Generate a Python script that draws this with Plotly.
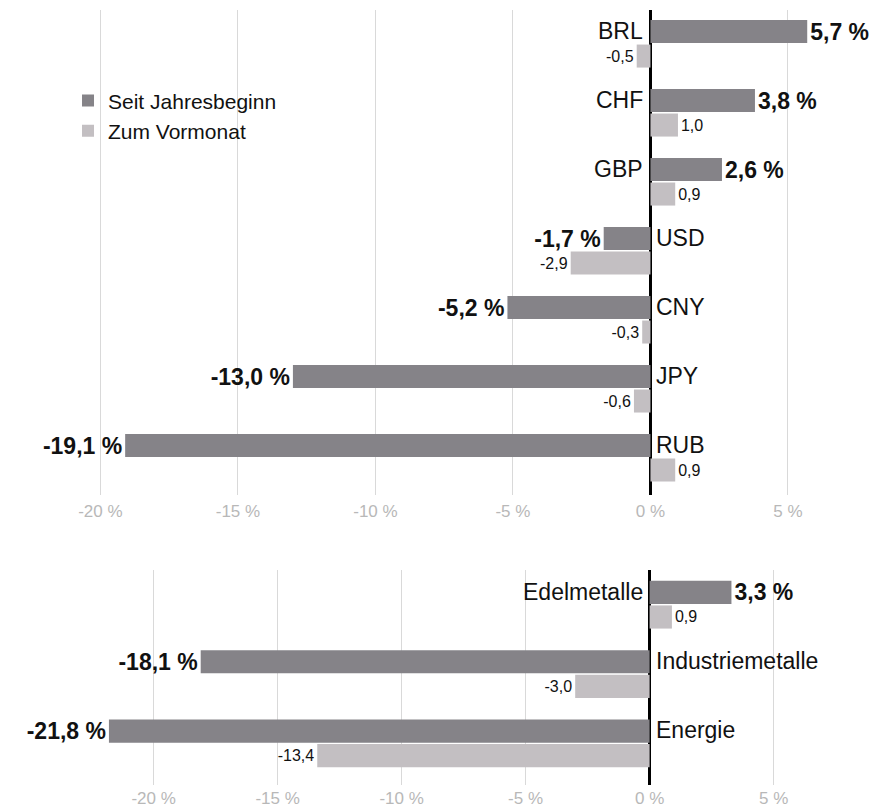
import plotly.graph_objects as go

# Währungen (oben)
currencies = ['BRL', 'CHF', 'GBP', 'USD', 'CNY', 'JPY', 'RUB']
cur_ytd = [5.7, 3.8, 2.6, -1.7, -5.2, -13.0, -19.1]
cur_month = [-0.5, 1.0, 0.9, -2.9, -0.3, -0.6, 0.9]

# Rohstoffe (unten)
commodities = ['Edelmetalle', 'Industriemetalle', 'Energie']
com_ytd = [3.3, -18.1, -21.8]
com_month = [0.9, -3.0, -13.4]

tick_vals = [-20, -15, -10, -5, 0, 5]
tick_text = ['-20 %', '-15 %', '-10 %', '-5 %', '0 %', '5 %']

DARK = '#858388'
LIGHT = '#c3bfc2'
FONT = 'Liberation Sans, Arial, sans-serif'


def fmt_pct(v):
    return f'{v:.1f} %'.replace('.', ',')


def fmt_num(v):
    return f'{v:.1f}'.replace('.', ',')


fig = go.Figure()

for cats, ytd, month, xa, ya, legend in [
        (currencies, cur_ytd, cur_month, 'x', 'y', True),
        (commodities, com_ytd, com_month, 'x2', 'y2', False)]:
    fig.add_trace(go.Bar(
        y=cats, x=ytd, orientation='h', name='Seit Jahresbeginn',
        marker=dict(color=DARK, line=dict(width=0)),
        text=[fmt_pct(v) for v in ytd], textposition='outside',
        textfont=dict(family=FONT, size=23, color='#111111', weight='bold'),
        constraintext='none', cliponaxis=False,
        showlegend=legend, xaxis=xa, yaxis=ya, hoverinfo='skip'))
    fig.add_trace(go.Bar(
        y=cats, x=month, orientation='h', name='Zum Vormonat',
        marker=dict(color=LIGHT, line=dict(width=0)),
        text=[fmt_num(v) for v in month], textposition='outside',
        textfont=dict(family=FONT, size=16, color='#111111'),
        constraintext='none', cliponaxis=False,
        showlegend=legend, xaxis=xa, yaxis=ya, hoverinfo='skip'))

# Kategoriebeschriftungen direkt an der Nulllinie
annotations = []
for cats, ytd, ya in [(currencies, cur_ytd, 'y'), (commodities, com_ytd, 'y2')]:
    xr = 'x' if ya == 'y' else 'x2'
    for c, v in zip(cats, ytd):
        pos = v >= 0
        annotations.append(dict(
            x=0, y=c, xref=xr, yref=ya, text=c, showarrow=False,
            xanchor='right' if pos else 'left', xshift=-5 if pos else 4,
            yshift=13, font=dict(family=FONT, size=23, color='#111111')))

axis_common = dict(
    tickvals=tick_vals, ticktext=tick_text, showgrid=True,
    gridcolor='#d9d9d9', gridwidth=1.3, zeroline=True,
    zerolinecolor='#000000', zerolinewidth=2.5, showline=False,
    ticks='', tickfont=dict(family=FONT, size=17, color='#b8b8b8'),
    automargin=False, fixedrange=True)

# die Seite hat 8px Rand, daher 871 x 803
fig.update_layout(
    width=871, height=803,
    margin=dict(l=0, r=0, t=0, b=0),
    paper_bgcolor='white', plot_bgcolor='white',
    barmode='group', bargap=0.29, bargroupgap=0.06,
    font=dict(family=FONT, color='#111111'),
    xaxis=dict(domain=[0, 1], anchor='y', range=[-23.36, 8.31],
               ticklabelstandoff=4, **axis_common),
    yaxis=dict(domain=[0.3935, 0.9975], anchor='x', range=[6.54, -0.49],
               showticklabels=False, showgrid=False, zeroline=False,
               fixedrange=True),
    xaxis2=dict(domain=[0, 1], anchor='y2', range=[-25.87, 9.25],
                ticklabelstandoff=1, **axis_common),
    yaxis2=dict(domain=[0.0324, 0.3001], anchor='x2', range=[2.6, -0.5],
                showticklabels=False, showgrid=False, zeroline=False,
                fixedrange=True),
    legend=dict(x=0.0689, y=0.910, xanchor='left', yanchor='top',
                font=dict(family=FONT, size=21, color='#111111'),
                bgcolor='rgba(0,0,0,0)', traceorder='normal'),
    annotations=annotations,
    showlegend=True,
)

fig.write_html('out.html')
